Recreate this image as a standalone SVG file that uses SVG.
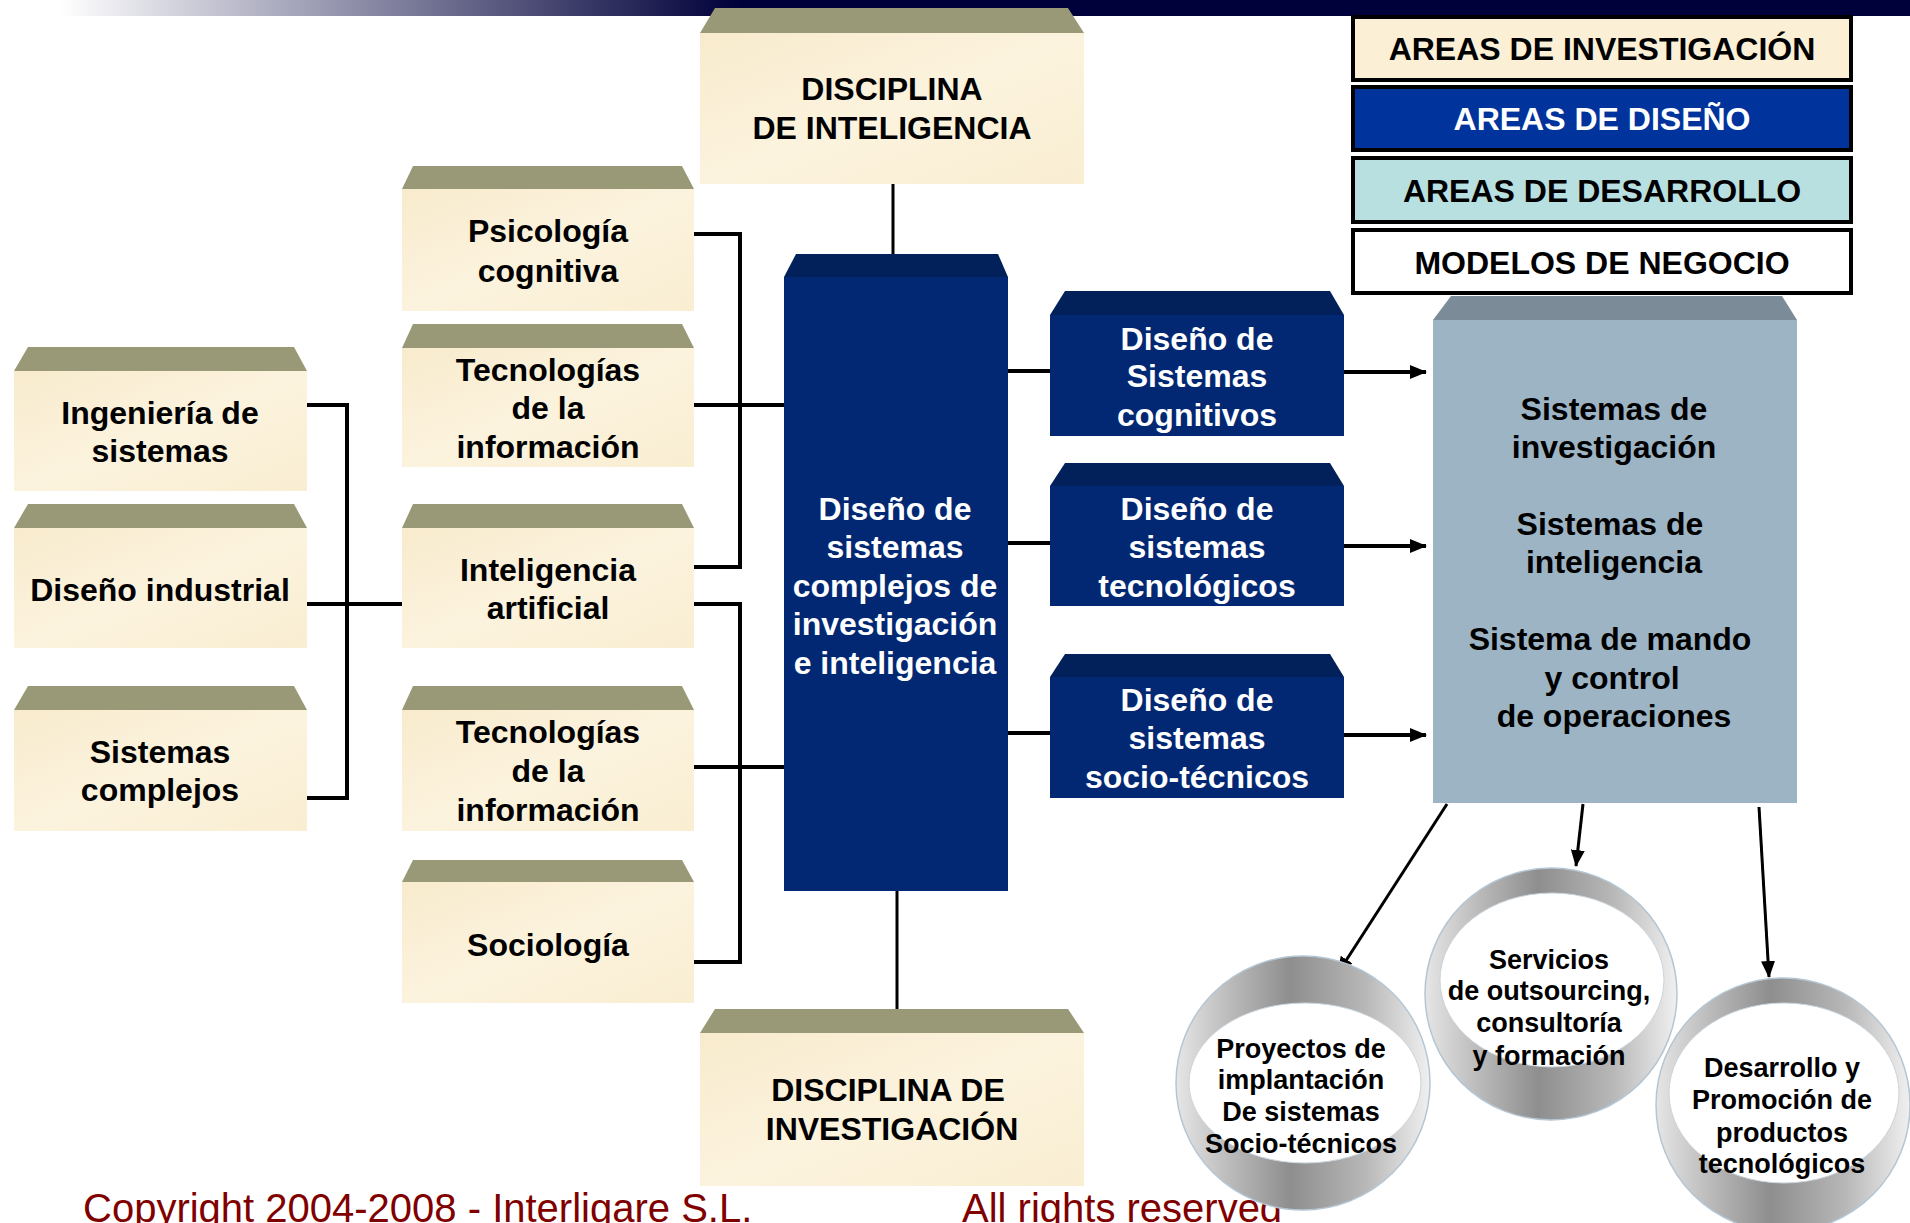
<svg xmlns="http://www.w3.org/2000/svg" width="1910" height="1223" viewBox="0 0 1910 1223">
<defs>
<linearGradient id="hdr" gradientUnits="userSpaceOnUse" x1="60" y1="0" x2="740" y2="0">
<stop offset="0" stop-color="#ffffff"/><stop offset="0.45" stop-color="#8a8aa6"/><stop offset="1" stop-color="#00003a"/>
</linearGradient>
<linearGradient id="beige" x1="0" y1="0" x2="1" y2="1">
<stop offset="0" stop-color="#f8ebcd"/><stop offset="0.5" stop-color="#fcf3de"/><stop offset="1" stop-color="#f9eed2"/>
</linearGradient>
<linearGradient id="ring" x1="0" y1="0" x2="1" y2="0">
<stop offset="0" stop-color="#e6e6e6"/><stop offset="0.2" stop-color="#bdbdbd"/><stop offset="0.45" stop-color="#8e8e8e"/><stop offset="0.75" stop-color="#b8b8b8"/><stop offset="1" stop-color="#f0f0f0"/>
</linearGradient>
<marker id="ah" markerUnits="userSpaceOnUse" markerWidth="17" markerHeight="14" refX="16" refY="7" orient="auto">
<path d="M0,0 L17,7 L0,14 z" fill="#000"/>
</marker>
<style>
text{font-family:"Liberation Sans",Arial,sans-serif;font-weight:bold;text-anchor:middle}
.b{font-size:32px;fill:#000}
.w{font-size:32px;fill:#fff}
.c{font-size:27px;fill:#000}
.foot{font-size:40px;font-weight:normal;fill:#800000;text-anchor:start}
.body{fill:url(#beige)}
.band{fill:#999977}
.dbody{fill:#022873}
.dband{fill:#02205a}
.ln{fill:none;stroke:#000;stroke-width:4}
.lg{stroke:#000;stroke-width:4}
.rg{fill:url(#ring);stroke:#b4c6d4;stroke-width:1.5}
.in{fill:#fff;stroke:#c9d5de;stroke-width:1}
</style>
</defs>
<rect x="0" y="0" width="1910" height="1223" fill="#fff"/>
<rect x="0" y="0" width="1910" height="16" fill="url(#hdr)"/>

<text class="foot" x="83" y="1222">Copyright 2004-2008 - Interligare S.L.</text>
<text class="foot" x="962" y="1222">All rights reserved</text>

<g id="connectors">
<path class="ln" d="M307,405 H347 V798 H307"/>
<path class="ln" d="M307,604 H402"/>
<path class="ln" d="M694,234 H740 V567 H694"/>
<path class="ln" d="M694,405 H784"/>
<path class="ln" d="M694,604 H740 V962 H694"/>
<path class="ln" d="M694,767 H784"/>
<path class="ln" style="stroke-width:3" d="M893,184 V277"/>
<path class="ln" style="stroke-width:3" d="M897,891 V1033"/>
<path class="ln" d="M1008,371 H1050"/>
<path class="ln" d="M1008,543 H1050"/>
<path class="ln" d="M1008,733 H1050"/>
<path class="ln" d="M1344,372 H1426" marker-end="url(#ah)"/>
<path class="ln" d="M1344,546 H1426" marker-end="url(#ah)"/>
<path class="ln" d="M1344,735 H1426" marker-end="url(#ah)"/>
<path class="ln" style="stroke-width:3" d="M1447,804 L1338,973" marker-end="url(#ah)"/>
<path class="ln" style="stroke-width:3" d="M1583,804 L1576,866" marker-end="url(#ah)"/>
<path class="ln" style="stroke-width:3" d="M1759,807 L1769,977" marker-end="url(#ah)"/>
</g>

<g id="disciplina-inteligencia">
<rect class="body" x="700" y="33" width="384" height="151"/>
<polygon class="band" points="700,33 715,8 1068,8 1084,33"/>
<text class="b" x="892" y="100">DISCIPLINA</text>
<text class="b" x="892" y="139">DE INTELIGENCIA</text>
</g>

<g id="psicologia">
<rect class="body" x="402" y="189" width="292" height="122"/>
<polygon class="band" points="402,189 413,166 682,166 694,189"/>
<text class="b" x="548" y="242">Psicología</text>
<text class="b" x="548" y="282">cognitiva</text>
</g>

<g id="tecnologias-1">
<rect class="body" x="402" y="348" width="292" height="119"/>
<polygon class="band" points="402,348 413,324 682,324 694,348"/>
<text class="b" x="548" y="381">Tecnologías</text>
<text class="b" x="548" y="419">de la</text>
<text class="b" x="548" y="458">información</text>
</g>

<g id="inteligencia-artificial">
<rect class="body" x="402" y="528" width="292" height="120"/>
<polygon class="band" points="402,528 413,504 682,504 694,528"/>
<text class="b" x="548" y="581">Inteligencia</text>
<text class="b" x="548" y="619">artificial</text>
</g>

<g id="tecnologias-2">
<rect class="body" x="402" y="710" width="292" height="121"/>
<polygon class="band" points="402,710 413,686 682,686 694,710"/>
<text class="b" x="548" y="743">Tecnologías</text>
<text class="b" x="548" y="782">de la</text>
<text class="b" x="548" y="821">información</text>
</g>

<g id="sociologia">
<rect class="body" x="402" y="882" width="292" height="121"/>
<polygon class="band" points="402,882 413,860 682,860 694,882"/>
<text class="b" x="548" y="956">Sociología</text>
</g>

<g id="ingenieria">
<rect class="body" x="14" y="371" width="293" height="120"/>
<polygon class="band" points="14,371 28,347 294,347 307,371"/>
<text class="b" x="160" y="424">Ingeniería de</text>
<text class="b" x="160" y="462">sistemas</text>
</g>

<g id="diseno-industrial">
<rect class="body" x="14" y="528" width="293" height="120"/>
<polygon class="band" points="14,528 28,504 294,504 307,528"/>
<text class="b" x="160" y="601">Diseño industrial</text>
</g>

<g id="sistemas-complejos">
<rect class="body" x="14" y="710" width="293" height="121"/>
<polygon class="band" points="14,710 28,686 294,686 307,710"/>
<text class="b" x="160" y="763">Sistemas</text>
<text class="b" x="160" y="801">complejos</text>
</g>

<g id="disciplina-investigacion">
<rect class="body" x="700" y="1033" width="384" height="153"/>
<polygon class="band" points="700,1033 715,1009 1068,1009 1084,1033"/>
<text class="b" x="888" y="1101">DISCIPLINA DE</text>
<text class="b" x="892" y="1140">INVESTIGACIÓN</text>
</g>

<g id="central">
<rect class="dbody" x="784" y="277" width="224" height="614"/>
<polygon class="dband" points="784,277 796,254 998,254 1008,277"/>
<text class="w" x="895" y="520">Diseño de</text>
<text class="w" x="895" y="558">sistemas</text>
<text class="w" x="895" y="597">complejos de</text>
<text class="w" x="895" y="635">investigación</text>
<text class="w" x="895" y="674">e inteligencia</text>
</g>

<g id="diseno-cognitivos">
<rect class="dbody" x="1050" y="315" width="294" height="121"/>
<polygon class="dband" points="1050,315 1065,291 1330,291 1344,315"/>
<text class="w" x="1197" y="350">Diseño de</text>
<text class="w" x="1197" y="387">Sistemas</text>
<text class="w" x="1197" y="426">cognitivos</text>
</g>

<g id="diseno-tecnologicos">
<rect class="dbody" x="1050" y="486" width="294" height="120"/>
<polygon class="dband" points="1050,486 1065,463 1330,463 1344,486"/>
<text class="w" x="1197" y="520">Diseño de</text>
<text class="w" x="1197" y="558">sistemas</text>
<text class="w" x="1197" y="597">tecnológicos</text>
</g>

<g id="diseno-sociotecnicos">
<rect class="dbody" x="1050" y="677" width="294" height="121"/>
<polygon class="dband" points="1050,677 1065,654 1330,654 1344,677"/>
<text class="w" x="1197" y="711">Diseño de</text>
<text class="w" x="1197" y="749">sistemas</text>
<text class="w" x="1197" y="788">socio-técnicos</text>
</g>

<g id="sistemas">
<rect x="1433" y="320" width="364" height="483" fill="#9db4c4"/>
<polygon points="1433,320 1451,296 1782,296 1797,320" fill="#7b8c98"/>
<text class="b" x="1614" y="420">Sistemas de</text>
<text class="b" x="1614" y="458">investigación</text>
<text class="b" x="1610" y="535">Sistemas de</text>
<text class="b" x="1614" y="573">inteligencia</text>
<text class="b" x="1610" y="650">Sistema de mando</text>
<text class="b" x="1612" y="689">y control</text>
<text class="b" x="1614" y="727">de operaciones</text>
</g>

<g id="legend-investigacion">
<rect class="lg" x="1353" y="17" width="498" height="63" fill="#fbefd6"/>
<text class="b" x="1602" y="60">AREAS DE INVESTIGACIÓN</text>
</g>
<g id="legend-diseno">
<rect class="lg" x="1353" y="87" width="498" height="63" fill="#00339c"/>
<text class="w" x="1602" y="130">AREAS DE DISEÑO</text>
</g>
<g id="legend-desarrollo">
<rect class="lg" x="1353" y="158" width="498" height="64" fill="#b9e0e1"/>
<text class="b" x="1602" y="202">AREAS DE DESARROLLO</text>
</g>
<g id="legend-negocio">
<rect class="lg" x="1353" y="230" width="498" height="63" fill="#ffffff"/>
<text class="b" x="1602" y="274">MODELOS DE NEGOCIO</text>
</g>

<g id="proyectos">
<circle class="rg" cx="1303" cy="1083" r="127"/>
<ellipse class="in" cx="1305" cy="1083" rx="116" ry="80"/>
<text class="c" x="1301" y="1058">Proyectos de</text>
<text class="c" x="1301" y="1089">implantación</text>
<text class="c" x="1301" y="1121">De sistemas</text>
<text class="c" x="1301" y="1153">Socio-técnicos</text>
</g>

<g id="servicios">
<circle class="rg" cx="1551" cy="994" r="126"/>
<ellipse class="in" cx="1552" cy="980" rx="112" ry="87"/>
<text class="c" x="1549" y="969">Servicios</text>
<text class="c" x="1549" y="1000">de outsourcing,</text>
<text class="c" x="1549" y="1032">consultoría</text>
<text class="c" x="1549" y="1065">y formación</text>
</g>

<g id="desarrollo">
<circle class="rg" cx="1783" cy="1105" r="127"/>
<ellipse class="in" cx="1784" cy="1093" rx="115" ry="90"/>
<text class="c" x="1782" y="1077">Desarrollo y</text>
<text class="c" x="1782" y="1109">Promoción de</text>
<text class="c" x="1782" y="1142">productos</text>
<text class="c" x="1782" y="1173">tecnológicos</text>
</g>
</svg>
